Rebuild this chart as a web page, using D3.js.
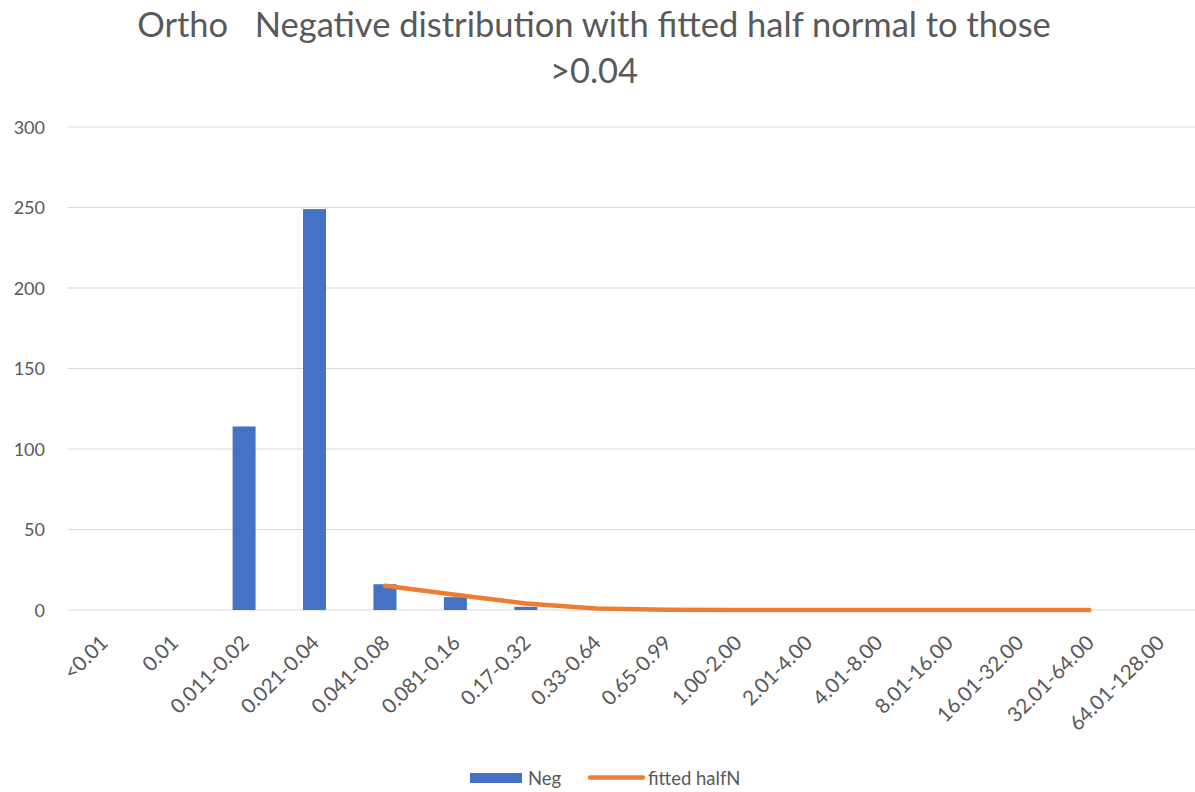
<!DOCTYPE html>
<html><head><meta charset="utf-8">
<script src="https://cdn.jsdelivr.net/npm/d3@7"></script>
<style>body{margin:0;background:#fff;} text{font-family:Lato,"Open Sans",sans-serif;fill:#595959;}</style>
</head><body>
<svg id="c" width="1195" height="792"></svg>
<script>
const categories = ["<0.01","0.01","0.011-0.02","0.021-0.04","0.041-0.08","0.081-0.16","0.17-0.32","0.33-0.64","0.65-0.99","1.00-2.00","2.01-4.00","4.01-8.00","8.01-16.00","16.01-32.00","32.01-64.00","64.01-128.00"];
const negValues = [0,0,114,249,16,8,2,0,0,0,0,0,0,0,0,0];
const fittedValues = [null,null,null,null,15,9.5,4,1,0.2,0,0,0,0,0,0,null];
const yTicks = [0,50,100,150,200,250,300];

const svg = d3.select("#c");
const m = {l:68, r:1195, t:127, b:610};
const xc = d3.scalePoint().domain(categories).range([m.l, m.r]).padding(0.5);
const y = d3.scaleLinear().domain([0,300]).range([m.b, m.t]);

// gridlines
svg.append("g").selectAll("line").data(yTicks).join("line")
  .attr("x1", m.l).attr("x2", m.r).attr("y1", d=>y(d)).attr("y2", d=>y(d))
  .attr("stroke","#d9d9d9").attr("stroke-width",1);

// y labels
svg.append("g").selectAll("text").data(yTicks).join("text")
  .attr("x", 45).attr("y", d=>y(d)+6.5).attr("text-anchor","end")
  .style("font-size","18px").text(d=>d);

// bars
const bw = 23;
svg.append("g").selectAll("rect").data(categories.map((c,i)=>({c,v:negValues[i]}))).join("rect")
  .attr("x", d=>xc(d.c)-bw/2).attr("width", bw)
  .attr("y", d=>y(d.v)).attr("height", d=>y(0)-y(d.v))
  .attr("fill","#4472C4");

// line
const line = d3.line().defined(d=>d.v!==null).x(d=>xc(d.c)).y(d=>y(d.v));
svg.append("path").datum(categories.map((c,i)=>({c,v:fittedValues[i]})))
  .attr("d", line).attr("fill","none").attr("stroke","#ED7D31").attr("stroke-width",4.5)
  .attr("stroke-linecap","round").attr("stroke-linejoin","round");

// x labels
svg.append("g").selectAll("text").data(categories).join("text")
  .attr("transform", d=>`translate(${xc(d)+6},${m.b+34}) rotate(-45)`)
  .attr("text-anchor","end").style("font-size","20.5px").text(d=>d);

// title
svg.append("text").attr("x",594).attr("y",37).attr("text-anchor","middle")
  .style("font-size","34.5px").text("Ortho\u00a0\u00a0\u00a0Negative distribution with fitted half normal to those");
svg.append("text").attr("x",594).attr("y",83).attr("text-anchor","middle")
  .style("font-size","34.5px").text(">0.04");

// legend
const lg = svg.append("g");
lg.append("rect").attr("x",470).attr("y",773).attr("width",52).attr("height",10).attr("fill","#4472C4");
lg.append("text").attr("x",528).attr("y",785).style("font-size","18.5px").text("Neg");
lg.append("line").attr("x1",590).attr("x2",643).attr("y1",777.5).attr("y2",777.5)
  .attr("stroke","#ED7D31").attr("stroke-width",4.5).attr("stroke-linecap","round");
lg.append("text").attr("x",648).attr("y",785).style("font-size","18.5px").text("fitted halfN");
</script>
</body></html>
